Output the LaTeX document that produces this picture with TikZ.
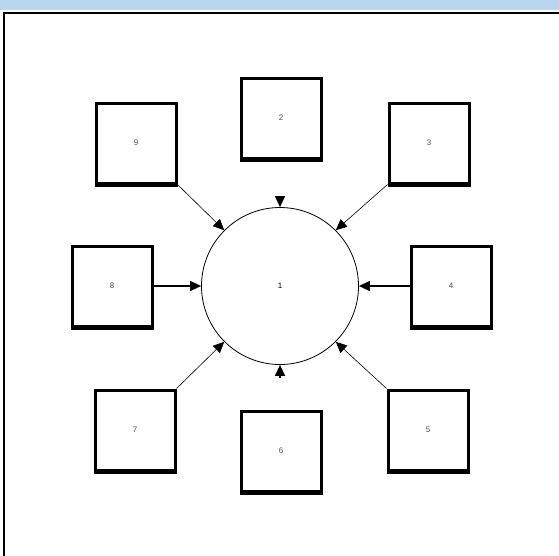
\documentclass[tikz,border=0pt]{standalone}
\usepackage{fontspec}
\setmainfont{Liberation Sans}
\usetikzlibrary{arrows.meta}
\definecolor{bandblue}{RGB}{184,214,240}
\tikzset{
  unitbox/.style={draw, line width=3pt, minimum size=80pt, inner sep=0pt, font=\fontsize{8}{9}\selectfont, text=black!70},
  feed/.style={-{Triangle[length=11pt,width=10pt]}, line width=0.6pt},
  feedthick/.style={-{Triangle[length=11pt,width=10pt]}, line width=1.3pt}
}
\begin{document}
\begin{tikzpicture}[x=1pt, y=-1pt]
  \useasboundingbox (0,0) rectangle (559,555);
  % window band and frame
  \fill[bandblue] (0,0) rectangle (559,10);
  \draw[line width=2pt] (4,560) -- (4,12.5) -- (565,12.5);
  % centre
  \node[draw, circle, line width=0.8pt, minimum size=157pt, inner sep=0pt,
        font=\fontsize{8}{9}\selectfont] (hub) at (280,286) {1};
  % outer units
  \node[unitbox] (u9) at (136,143) {9};
  \node[unitbox] (u2) at (281,118) {2};
  \node[unitbox] (u3) at (429,143) {3};
  \node[unitbox] (u8) at (112,286) {8};
  \node[unitbox] (u4) at (451,286) {4};
  \node[unitbox] (u7) at (135,430) {7};
  \node[unitbox] (u6) at (281,451) {6};
  \node[unitbox] (u5) at (428,430) {5};
  % heavier bottom edges
  \foreach \u in {u9,u2,u3,u8,u4,u7,u6,u5}
    \draw[line width=2pt] ([yshift=-1.5pt]\u.south west) -- ([yshift=-1.5pt]\u.south east);
  % connectors
  \draw[feed] (u9.south east) -- (hub.135);
  \draw[feed] (u3.south west) -- (hub.45);
  \draw[feed] (u7.north east) -- (hub.-135);
  \draw[feed] (u5.north west) -- (hub.-45);
  \draw[feedthick] (u8.east) -- (hub.west);
  \draw[feedthick] (u4.west) -- (hub.east);
  \coordinate (topin) at ([yshift=11pt]hub.north);
  \coordinate (botin) at ([yshift=-13pt]hub.south);
  \draw[feedthick] (topin) -- (hub.north);
  \draw[feedthick] (botin) -- (hub.south);
\end{tikzpicture}
\end{document}
